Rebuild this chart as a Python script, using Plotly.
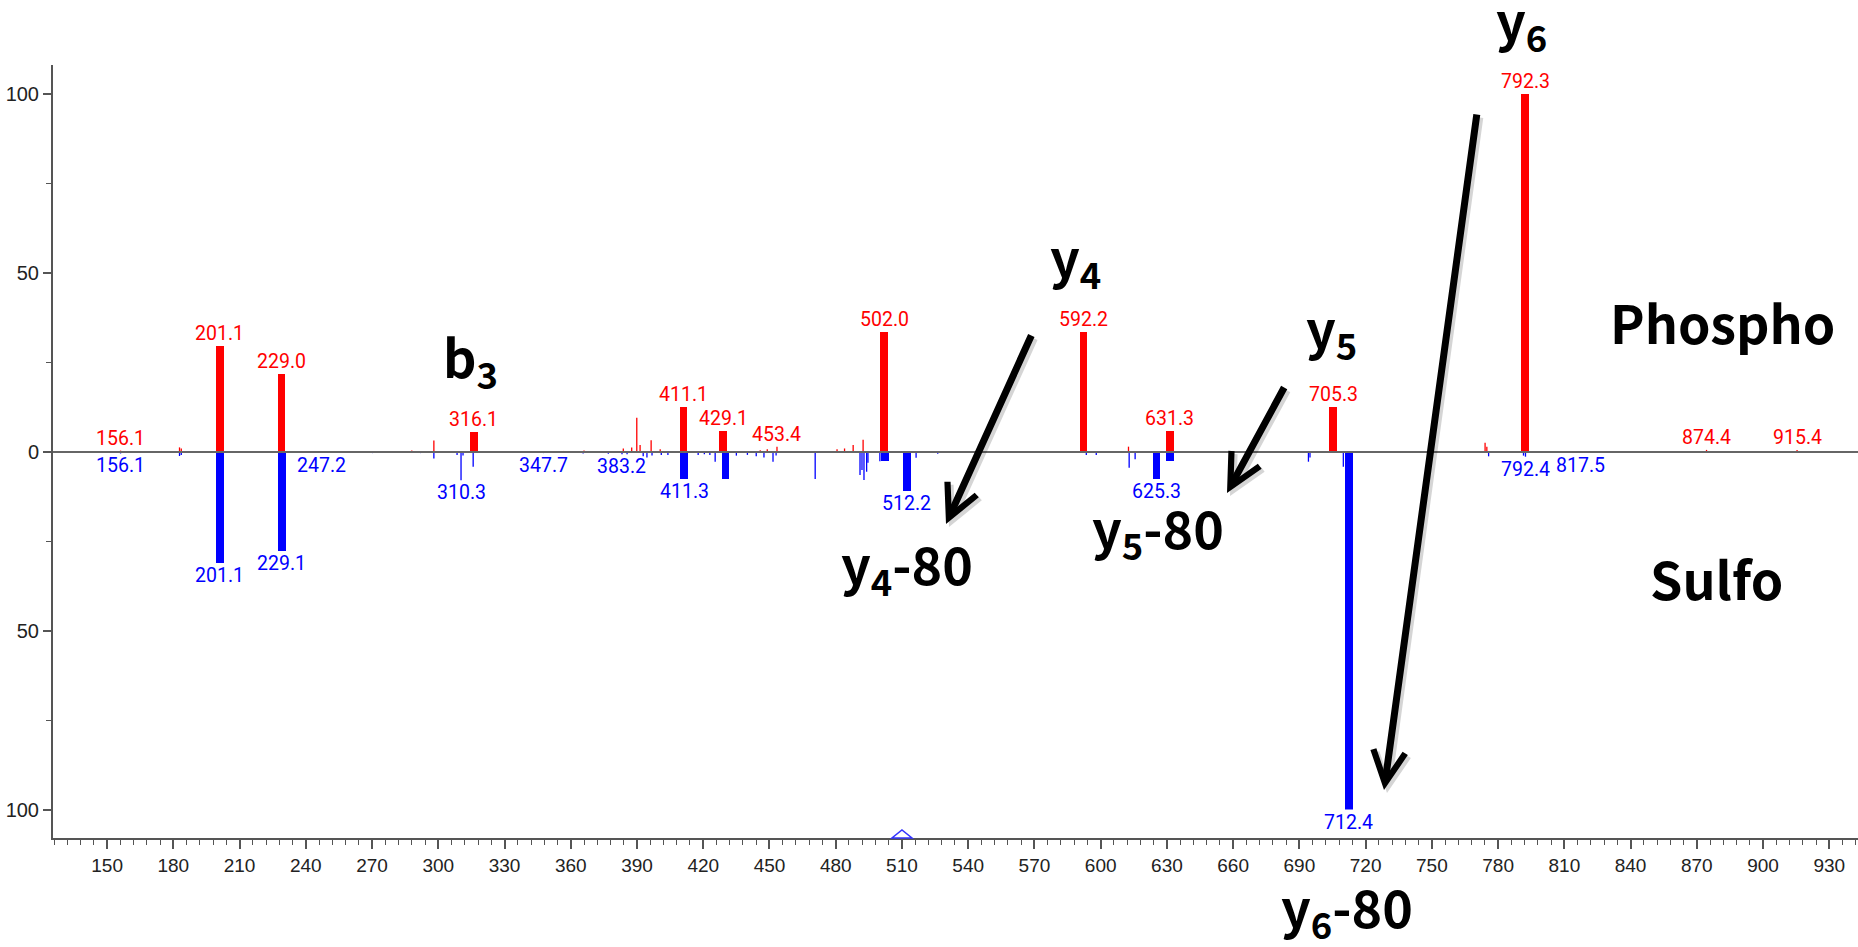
import plotly.graph_objects as go

# ---------------- data ----------------
phospho_major_mz = [201.1, 229.0, 316.1, 411.1, 429.1, 502.0, 592.2, 631.3, 705.3, 792.3]
phospho_major_int = [29.5, 21.8, 5.6, 12.7, 5.9, 33.6, 33.6, 5.8, 12.7, 100.0]

sulfo_major_mz = [201.1, 229.1, 411.3, 430.1, 502.2, 512.2, 625.3, 631.4, 712.4]
sulfo_major_int = [31.0, 27.5, 7.5, 7.5, 2.6, 10.9, 7.5, 2.5, 100.0]

phospho_minor_mz = [156.1, 173.6, 182.8, 183.6, 271.0, 288.0, 298.0, 356.7, 366.0, 377.0,
                    383.8, 387.6, 389.9, 391.4, 396.4, 400.5, 445.8, 449.0, 453.4, 480.6,
                    484.0, 487.9, 492.4, 573.9, 612.6, 686.5, 757.3, 774.1, 774.9, 855.6,
                    874.4, 915.4]
phospho_minor_int = [0.4, 0.2, 1.3, 1.0, 0.3, 0.4, 3.2, 0.3, 0.4, 0.3,
                     1.0, 1.3, 9.6, 2.0, 3.3, 0.8, 0.5, 0.8, 1.5, 0.8,
                     1.0, 2.0, 3.4, 0.3, 1.5, 0.3, 0.3, 2.6, 1.5, 0.2,
                     0.6, 0.6]

sulfo_minor_mz = [140.9, 146.8, 156.1, 182.8, 183.6, 211.0, 215.2, 247.2, 270.2, 292.0,
                  298.0, 308.5, 310.3, 311.2, 315.8, 347.7, 356.8, 365.6, 377.0, 383.2,
                  385.5, 392.8, 394.5, 396.8, 401.0, 404.0, 417.7, 420.5, 423.0, 425.4,
                  435.0, 440.0, 444.0, 447.5, 451.6, 453.0, 470.7, 491.0, 491.9, 492.8,
                  494.0, 494.6, 500.0, 516.4, 526.2, 593.5, 598.0, 612.9, 615.6, 694.1,
                  694.8, 709.9, 775.7, 791.5, 792.4, 817.5, 836.0]
sulfo_minor_int = [0.3, 0.3, 0.4, 1.1, 0.8, 0.3, 0.3, 0.3, 0.3, 0.3,
                   1.8, 0.8, 7.9, 1.0, 4.1, 0.3, 0.3, 0.4, 0.5, 0.6,
                   0.6, 1.2, 1.5, 1.0, 0.8, 0.8, 0.8, 0.6, 0.8, 2.7,
                   1.0, 0.8, 1.2, 1.5, 2.7, 1.0, 7.5, 6.4, 5.0, 7.8,
                   5.5, 3.0, 2.6, 1.6, 0.5, 0.8, 0.8, 4.4, 2.0, 2.7,
                   1.5, 4.1, 1.2, 1.0, 1.3, 0.3, 0.3]

phospho_label_mz = [156.1, 201.1, 229.0, 316.1, 411.1, 429.1, 453.4, 502.0, 592.2,
                    631.3, 705.3, 792.3, 874.4, 915.4]
sulfo_label_mz = [156.1, 201.1, 229.1, 247.2, 310.3, 347.7, 383.2, 411.3, 512.2,
                  625.3, 712.4, 792.4, 817.5]

precursor_mz = 510.0

x_tick_vals = list(range(150, 931, 30))
y_tick_vals = [-100, -50, 0, 50, 100]
y_tick_text = ["100", "50", "0", "50", "100"]

# ---------------- layout geometry ----------------
W, H = 1858, 947
ML, MR, MT, MB = 53, 0, 65, 109
PW, PH = W - ML - MR, H - MT - MB


def px(x):
    return (x - ML) / PW


def py(y):
    return (H - MB - y) / PH


RED = "#ff0000"
BLUE = "#0000ff"


def stems(mz, inten, sign):
    xs, ys = [], []
    for m, v in zip(mz, inten):
        xs += [m, m, None]
        ys += [0, sign * v, None]
    return xs, ys


fig = go.Figure()

rx, ry = stems(phospho_minor_mz, phospho_minor_int, 1)
bx, by = stems(sulfo_minor_mz, sulfo_minor_int, -1)
fig.add_trace(go.Scatter(x=rx, y=ry, mode="lines", line=dict(color=RED, width=1.3),
                         hoverinfo="skip", showlegend=False))
fig.add_trace(go.Scatter(x=bx, y=by, mode="lines", line=dict(color=BLUE, width=1.3),
                         hoverinfo="skip", showlegend=False))
fig.add_trace(go.Bar(x=phospho_major_mz, y=phospho_major_int, width=3.5,
                     marker=dict(color=RED, line=dict(width=0)), showlegend=False))
fig.add_trace(go.Bar(x=sulfo_major_mz, y=[-v for v in sulfo_major_int], width=3.5,
                     marker=dict(color=BLUE, line=dict(width=0)), showlegend=False))


def peak_height(m, mzs, ints):
    best = 0
    for a, b in zip(mzs, ints):
        if abs(a - m) <= 1.0 and b > best:
            best = b
    return best


ann = []
all_p_mz = phospho_major_mz + phospho_minor_mz
all_p_int = phospho_major_int + phospho_minor_int
all_s_mz = sulfo_major_mz + sulfo_minor_mz
all_s_int = sulfo_major_int + sulfo_minor_int

LBL = 19.5
for m in phospho_label_mz:
    h = peak_height(m, all_p_mz, all_p_int)
    ann.append(dict(x=m, y=h, xref="x", yref="y", text=f"{m:.1f}", showarrow=False,
                    xanchor="center", yanchor="bottom", yshift=-1,
                    font=dict(family="Roboto", size=LBL, color=RED)))
for m in sulfo_label_mz:
    h = peak_height(m, all_s_mz, all_s_int)
    ann.append(dict(x=m, y=-h, xref="x", yref="y", text=f"{m:.1f}", showarrow=False,
                    xanchor="center", yanchor="top", yshift=1,
                    bgcolor="white" if h >= 99 else None,
                    font=dict(family="Roboto", size=LBL, color=BLUE)))

BIG = dict(family="Noto Sans CJK JP", size=52, color="black", weight=700)
texts = [
    ("y<sub>6</sub>", 1521, 22),
    ("y<sub>4</sub>", 1075, 258),
    ("b<sub>3</sub>", 470, 359),
    ("y<sub>5</sub>", 1331, 329),
    ("Phospho", 1722, 321),
    ("Sulfo", 1716, 577),
    ("y<sub>4</sub>-80", 907, 565),
    ("y<sub>5</sub>-80", 1158, 529),
    ("y<sub>6</sub>-80", 1347, 909),
]
for t, x, y in texts:
    ann.append(dict(x=px(x), y=py(y), xref="paper", yref="paper", text=t, showarrow=False,
                    xanchor="center", yanchor="middle", font=BIG))

arrows = [((1032, 334), (946, 524)), ((1285, 386), (1227, 493)), ((1477, 113), (1384, 790))]
for (tx, ty), (hx, hy) in arrows:
    for off, col in ((3, "rgba(0,0,0,0.16)"), (0, "black")):
        ann.append(dict(x=px(hx + off), y=py(hy + off), xref="paper", yref="paper",
                        ax=tx - hx, ay=ty - hy, axref="pixel", ayref="pixel",
                        text="", showarrow=True, arrowhead=5, arrowwidth=7,
                        arrowsize=0.9, arrowcolor=col))

shapes = [
    dict(type="line", xref="paper", yref="y", x0=0, x1=1, y0=0, y1=0,
         line=dict(color="#666666", width=2), layer="above"),
    dict(type="path", xref="x", yref="paper", xsizemode="pixel", ysizemode="pixel",
         xanchor=precursor_mz, yanchor=0, path="M-10,0 L10,0 L0,8 Z",
         line=dict(color="#3333ff", width=1.5), fillcolor="rgba(0,0,0,0)", layer="above"),
]

fig.update_layout(
    width=W, height=H,
    margin=dict(l=ML, r=MR, t=MT, b=MB, pad=0),
    paper_bgcolor="white", plot_bgcolor="white",
    barmode="overlay", bargap=0,
    showlegend=False,
    annotations=ann, shapes=shapes,
    xaxis=dict(range=[125.5, 943], tickvals=x_tick_vals, ticks="outside", ticklen=9,
               tickwidth=1.5, tickcolor="#555555", showgrid=False, zeroline=False,
               showline=True, linecolor="#555555", linewidth=2,
               minor=dict(dtick=6, tick0=0, ticks="outside", ticklen=5, tickwidth=1.2,
                          tickcolor="#555555", showgrid=False),
               tickfont=dict(family="Liberation Sans", size=19, color="#222222")),
    yaxis=dict(range=[-107.8, 108.1], tickvals=y_tick_vals, ticktext=y_tick_text,
               ticks="outside", ticklen=8, tickwidth=1.5, tickcolor="#555555",
               showgrid=False, zeroline=False, showline=True, linecolor="#555555",
               linewidth=2,
               minor=dict(dtick=25, tick0=0, ticks="outside", ticklen=5, tickwidth=1.2,
                          tickcolor="#555555", showgrid=False),
               tickfont=dict(family="Liberation Sans", size=20, color="#222222")),
)

fig.write_html("out.html")
